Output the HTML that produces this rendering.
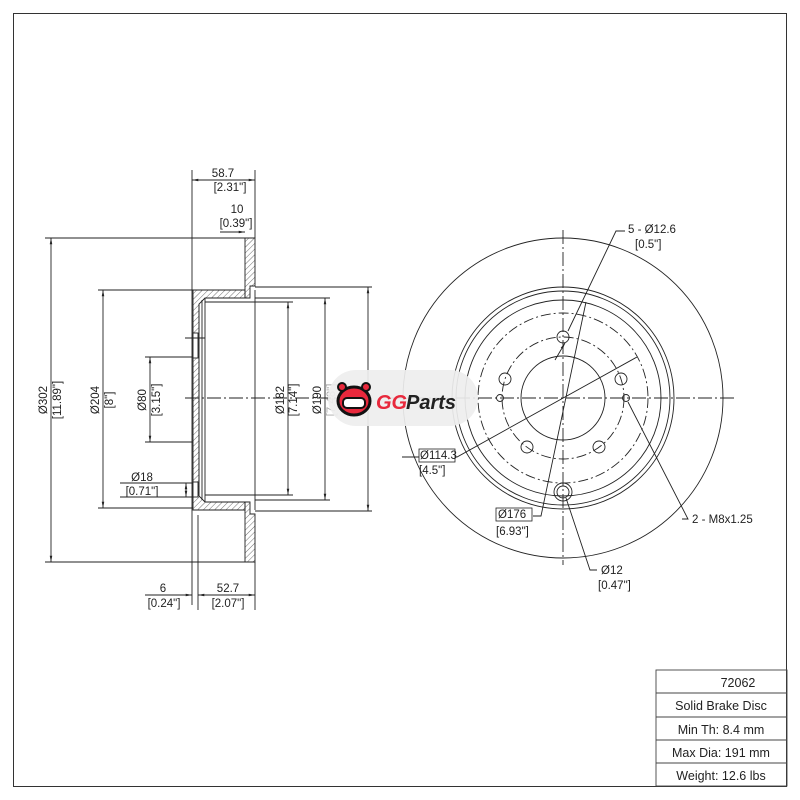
<!DOCTYPE html>
<html><head><meta charset="utf-8"><style>
body{margin:0;background:#fff}
svg{display:block}
text{font-family:"Liberation Sans","DejaVu Sans",sans-serif;font-size:11.5px;fill:#222}
</style></head><body>
<svg width="800" height="800" viewBox="0 0 800 800" xmlns="http://www.w3.org/2000/svg">
<defs>
<pattern id="h" patternUnits="userSpaceOnUse" width="4" height="4" patternTransform="rotate(45)"><line x1="0" y1="0" x2="0" y2="4" stroke="#333" stroke-width="0.7"/></pattern>
<marker id="a" viewBox="0 0 10 10" refX="10" refY="5" markerWidth="7" markerHeight="7" orient="auto-start-reverse"><path d="M0,3 L10,5 L0,7z" fill="#222"/></marker>
</defs>
<rect x="13.5" y="13.5" width="773" height="773" fill="none" stroke="#333"/>
<g stroke="#222" fill="none" stroke-width="0.9">
<path d="M245,238 H255 V286 H250 V298 H245 V290 Z" fill="url(#h)"/>
<path d="M245,562 H255 V514 H250 V502 H245 V510 Z" fill="url(#h)"/>
<path d="M193,290 H245 V298 H205 L199,304 V496 L205,502 H245 V510 H193 Z" fill="url(#h)"/>
<line x1="199" y1="304" x2="199" y2="496"/>
<line x1="202" y1="300" x2="202" y2="500"/>
<line x1="205" y1="298" x2="205" y2="502"/>
<line x1="255" y1="290" x2="255" y2="510"/>
<rect x="193" y="333" width="5" height="25" fill="#fff"/>
<rect x="193" y="482" width="5" height="15" fill="#fff"/>
<line x1="185" y1="338" x2="205" y2="338"/>
<line x1="185" y1="398" x2="350" y2="398" stroke-dasharray="14,3,2,3"/>
<line x1="192" y1="170" x2="192" y2="605"/>
<line x1="255" y1="170" x2="255" y2="238"/>
<line x1="255" y1="562" x2="255" y2="610"/>
<line x1="198" y1="515" x2="198" y2="610"/>
<line x1="45" y1="238" x2="245" y2="238"/>
<line x1="45" y1="562" x2="245" y2="562"/>
<line x1="98" y1="290" x2="193" y2="290"/>
<line x1="98" y1="508" x2="193" y2="508"/>
<line x1="145" y1="357" x2="193" y2="357"/>
<line x1="145" y1="442" x2="193" y2="442"/>
<line x1="205" y1="302" x2="293" y2="302"/>
<line x1="205" y1="495" x2="293" y2="495"/>
<line x1="255" y1="298" x2="330" y2="298"/>
<line x1="255" y1="500" x2="330" y2="500"/>
<line x1="255" y1="287" x2="372" y2="287"/>
<line x1="255" y1="511" x2="372" y2="511"/>
<line x1="51" y1="238" x2="51" y2="562" marker-start="url(#a)" marker-end="url(#a)"/>
<line x1="103" y1="290" x2="103" y2="508" marker-start="url(#a)" marker-end="url(#a)"/>
<line x1="150" y1="357" x2="150" y2="442" marker-start="url(#a)" marker-end="url(#a)"/>
<line x1="288" y1="302" x2="288" y2="495" marker-start="url(#a)" marker-end="url(#a)"/>
<line x1="325" y1="298" x2="325" y2="500" marker-start="url(#a)" marker-end="url(#a)"/>
<line x1="368" y1="287" x2="368" y2="511" marker-start="url(#a)" marker-end="url(#a)"/>
<line x1="192" y1="180" x2="255" y2="180" marker-start="url(#a)" marker-end="url(#a)"/>
<line x1="220" y1="232" x2="245" y2="232" marker-end="url(#a)"/>
<line x1="186" y1="483" x2="186" y2="497" marker-start="url(#a)" marker-end="url(#a)"/>
<line x1="120" y1="497" x2="193" y2="497"/>
<line x1="120" y1="483" x2="193" y2="483"/>
<line x1="145" y1="595" x2="192" y2="595" marker-end="url(#a)"/>
<line x1="198" y1="595" x2="255" y2="595" marker-start="url(#a)" marker-end="url(#a)"/>
</g>
<g>
<text x="223" y="177" text-anchor="middle">58.7</text><text x="230" y="191" text-anchor="middle">[2.31"]</text>
<text x="237" y="213" text-anchor="middle">10</text><text x="236" y="227" text-anchor="middle">[0.39"]</text>
<text transform="translate(47,400) rotate(-90)" text-anchor="middle">Ø302</text>
<text transform="translate(61,400) rotate(-90)" text-anchor="middle">[11.89"]</text>
<text transform="translate(99,400) rotate(-90)" text-anchor="middle">Ø204</text>
<text transform="translate(113,400) rotate(-90)" text-anchor="middle">[8"]</text>
<text transform="translate(146,400) rotate(-90)" text-anchor="middle">Ø80</text>
<text transform="translate(160,400) rotate(-90)" text-anchor="middle">[3.15"]</text>
<text transform="translate(284,400) rotate(-90)" text-anchor="middle">Ø182</text>
<text transform="translate(297,400) rotate(-90)" text-anchor="middle">[7.14"]</text>
<text transform="translate(321,400) rotate(-90)" text-anchor="middle">Ø190</text>
<text transform="translate(335,400) rotate(-90)" text-anchor="middle" style="fill:#aaa">[7.48"]</text>
<text x="142" y="481" text-anchor="middle">Ø18</text><text x="142" y="495" text-anchor="middle">[0.71"]</text>
<text x="163" y="592" text-anchor="middle">6</text><text x="164" y="607" text-anchor="middle">[0.24"]</text>
<text x="228" y="592" text-anchor="middle">52.7</text><text x="228" y="607" text-anchor="middle">[2.07"]</text>
</g>
<g stroke="#222" fill="none" stroke-width="0.9">
<circle cx="563" cy="398" r="160"/>
<circle cx="563" cy="398" r="111"/>
<circle cx="563" cy="398" r="107"/>
<circle cx="563" cy="398" r="98"/>
<circle cx="563" cy="398" r="85" stroke-dasharray="10,3,2,3"/>
<circle cx="563" cy="398" r="61" stroke-dasharray="10,3,2,3"/>
<circle cx="563" cy="398" r="42"/>
<line x1="563" y1="230" x2="563" y2="565" stroke-dasharray="14,3,2,3"/>
<line x1="390" y1="398" x2="735" y2="398" stroke-dasharray="14,3,2,3"/>
<circle cx="563" cy="337" r="6"/><circle cx="505" cy="379" r="6"/><circle cx="621" cy="379" r="6"/>
<circle cx="527" cy="447" r="6"/><circle cx="599" cy="447" r="6"/>
<circle cx="500" cy="398" r="3.5"/><circle cx="626" cy="398" r="3.5"/>
<circle cx="563" cy="492" r="6"/><circle cx="563" cy="492" r="9"/>
<polyline points="625,231 616,231 568,331"/>
<line x1="565" y1="343" x2="555" y2="360" marker-start="url(#a)"/>
<polyline points="402,457 457,457 637,357"/>
<polyline points="533,516 541,516 586,302"/>
<polyline points="682,519 688,519 628,402"/>
<polyline points="597,570 590,570 566,498"/>
</g>
<rect x="419" y="449" width="36" height="13" fill="#fff" stroke="#222" stroke-width="0.8"/>
<rect x="496" y="508" width="36" height="13" fill="#fff" stroke="#222" stroke-width="0.8"/>
<text x="420" y="459">Ø114.3</text><text x="419" y="474">[4.5"]</text>
<text x="498" y="518">Ø176</text><text x="496" y="535">[6.93"]</text>
<text x="628" y="233">5 - Ø12.6</text><text x="635" y="248">[0.5"]</text>
<text x="692" y="523">2 - M8x1.25</text>
<text x="601" y="574">Ø12</text><text x="598" y="589">[0.47"]</text>
<rect x="328" y="370" width="150" height="56" rx="28" fill="#eee" opacity="0.92"/>
<g>
<ellipse cx="354" cy="401" rx="16" ry="14" fill="#e8283c" stroke="#111" stroke-width="3"/>
<circle cx="342" cy="387" r="4" fill="#e8283c" stroke="#111" stroke-width="2"/>
<circle cx="366" cy="387" r="4" fill="#e8283c" stroke="#111" stroke-width="2"/>
<rect x="343" y="398" width="22" height="10" rx="4" fill="#fff" stroke="#111" stroke-width="2"/>
</g>
<text x="376" y="409" style="font-size:20px;font-weight:bold;font-style:italic;fill:#e8283c">GG</text>
<text x="406" y="409" style="font-size:20px;font-weight:bold;font-style:italic;fill:#222">Parts</text>
<g stroke="#444" fill="none" stroke-width="0.9">
<rect x="656" y="670" width="131" height="116"/>
<line x1="656" y1="693" x2="787" y2="693"/><line x1="656" y1="717" x2="787" y2="717"/>
<line x1="656" y1="740" x2="787" y2="740"/><line x1="656" y1="763" x2="787" y2="763"/>
</g>
<text x="738" y="687" text-anchor="middle" style="font-size:12.5px">72062</text>
<text x="721" y="710" text-anchor="middle" style="font-size:12.5px">Solid Brake Disc</text>
<text x="721" y="734" text-anchor="middle" style="font-size:12.5px">Min Th: 8.4 mm</text>
<text x="721" y="757" text-anchor="middle" style="font-size:12.5px">Max Dia: 191 mm</text>
<text x="721" y="780" text-anchor="middle" style="font-size:12.5px">Weight: 12.6 lbs</text>
</svg>
</body></html>
